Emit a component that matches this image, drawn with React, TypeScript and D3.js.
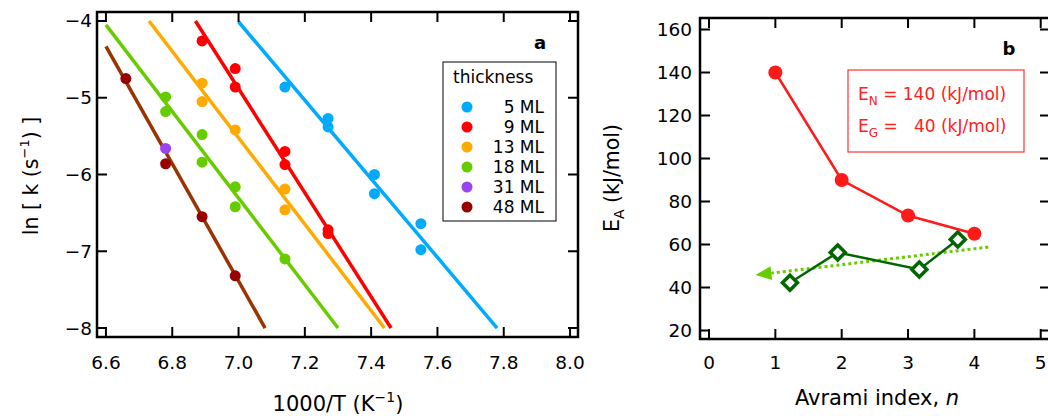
import { scaleLinear, range, line } from "d3";

const W = 1048;
const H = 416;
const FONT = "'DejaVu Sans', sans-serif";

// panel a: ln k vs 1000/T, one array pair per thickness
const labels = ["5 ML", "9 ML", "13 ML", "18 ML", "31 ML", "48 ML"];
const colors = ["#00aaff", "#ff0000", "#ffaa00", "#66cc00", "#9944ee", "#990000"];
const lineColors = ["#00aaff", "#ff0000", "#ffaa00", "#66cc00", null, "#993300"];

const x5 = [7.14, 7.27, 7.27, 7.41, 7.41, 7.55, 7.55];
const y5 = [-4.86, -5.27, -5.38, -6.0, -6.25, -6.64, -6.98];
const x9 = [6.89, 6.99, 6.99, 7.14, 7.14, 7.27, 7.27];
const y9 = [-4.26, -4.62, -4.86, -5.70, -5.87, -6.72, -6.77];
const x13 = [6.89, 6.89, 6.99, 7.14, 7.14];
const y13 = [-4.81, -5.05, -5.42, -6.19, -6.46];
const x18 = [6.78, 6.78, 6.89, 6.89, 6.99, 6.99, 7.14];
const y18 = [-4.99, -5.18, -5.48, -5.84, -6.16, -6.42, -7.10];
const x31 = [6.78];
const y31 = [-5.66];
const x48 = [6.66, 6.78, 6.89, 6.99];
const y48 = [-4.75, -5.86, -6.55, -7.32];

// fitted lines [x1, y1, x2, y2]
const fit5 = [7.0, -4.01, 7.78, -8.0];
const fit9 = [6.87, -4.0, 7.46, -8.0];
const fit13 = [6.73, -4.0, 7.44, -8.0];
const fit18 = [6.6, -4.05, 7.3, -8.0];
const fit48 = [6.6, -4.33, 7.08, -8.0];

const xTicksA = [6.6, 6.8, 7.0, 7.2, 7.4, 7.6, 7.8, 8.0];
const yTicksA = [-8, -7, -6, -5, -4];

// panel b: activation energy vs Avrami index
const avrami = [1, 2, 3, 4];
const eaRed = [140, 90, 73.5, 65];
const nX = [1.22, 1.94, 3.17, 3.75];
const nY = [42.2, 56.3, 48.4, 62.3];
const trendX = [4.21, 0.7];
const trendY = [58.8, 45.8];
const xTicksB = [0, 1, 2, 3, 4, 5];
const yTicksB = [20, 40, 60, 80, 100, 120, 140, 160];

const A = { l: 97, r: 578, t: 12, b: 337 };
const B = { l: 700, r: 1050, t: 18, b: 339 };

const xa = scaleLinear().domain([6.573, 8.024]).range([A.l, A.r]);
const ya = scaleLinear().domain([-8.117, -3.883]).range([A.b, A.t]);
const xb = scaleLinear().domain([-0.136, 5.14]).range([B.l, B.r]);
const yb = scaleLinear().domain([16.05, 165.35]).range([B.b, B.t]);

const TICK = 10;

function Frame({ P, xs, ys, xt, yt }: any) {
  return (
    <g stroke="#000" strokeWidth={2}>
      <rect x={P.l} y={P.t} width={P.r - P.l} height={P.b - P.t} fill="none" strokeWidth={2.5} />
      {xt.map((t: number) => (
        <g key={"x" + t}>
          <line x1={xs(t)} x2={xs(t)} y1={P.b} y2={P.b - TICK} />
          <line x1={xs(t)} x2={xs(t)} y1={P.t} y2={P.t + TICK} />
        </g>
      ))}
      {yt.map((t: number) => (
        <g key={"y" + t}>
          <line x1={P.l} x2={P.l + TICK} y1={ys(t)} y2={ys(t)} />
          <line x1={P.r} x2={P.r - TICK} y1={ys(t)} y2={ys(t)} />
        </g>
      ))}
    </g>
  );
}

export default function App() {
  const seriesX = [x5, x9, x13, x18, x31, x48];
  const seriesY = [y5, y9, y13, y18, y31, y48];
  const fits = [fit5, fit9, fit13, fit18, null, fit48];

  const redLine = line<number>()
    .x((d) => xb(avrami[d]))
    .y((d) => yb(eaRed[d]));
  const greenLine = line<number>()
    .x((d) => xb(nX[d]))
    .y((d) => yb(nY[d]));

  // arrow for the dotted trend
  const sx = xb(trendX[0]), sy = yb(trendY[0]);
  const tx = xb(trendX[1]), ty = yb(trendY[1]);
  const len = Math.hypot(tx - sx, ty - sy);
  const ux = (tx - sx) / len, uy = (ty - sy) / len;
  const headL = 16, headW = 7;
  const bx = tx - ux * headL, by = ty - uy * headL;
  const arrow = `${tx},${ty} ${bx - uy * headW},${by + ux * headW} ${bx + uy * headW},${by - ux * headW}`;

  const diamond = (cx: number, cy: number) => {
    const s = 7.5;
    return `${cx},${cy - s} ${cx + s},${cy} ${cx},${cy + s} ${cx - s},${cy}`;
  };

  return (
    <svg width={W} height={H} style={{ position: "absolute", left: 0, top: 0, fontFamily: FONT }}>
      <rect width={W} height={H} fill="#fff" />

      {/* panel a */}
      <g>
        {fits.map((f, i) =>
          f ? (
            <line key={"f" + i} x1={xa(f[0])} y1={ya(f[1])} x2={xa(f[2])} y2={ya(f[3])}
              stroke={lineColors[i] as string} strokeWidth={3.5} />
          ) : null
        )}
        {seriesX.map((xs, i) =>
          xs.map((v, j) => (
            <circle key={i + "-" + j} cx={xa(v)} cy={ya(seriesY[i][j])} r={5.5} fill={colors[i]} />
          ))
        )}
        <Frame P={A} xs={xa} ys={ya} xt={xTicksA} yt={yTicksA} />
        {xTicksA.map((t) => (
          <text key={t} x={xa(t)} y={369} fontSize={18.5} textAnchor="middle">{t.toFixed(1)}</text>
        ))}
        {yTicksA.map((t) => (
          <text key={t} x={92} y={ya(t) + 6.5} fontSize={18.5} textAnchor="end">{"\u2212" + Math.abs(t)}</text>
        ))}
        <text x={338} y={411} fontSize={21} textAnchor="middle">
          1000/T (K<tspan fontSize={14} dy={-9}>{"\u2212"}1</tspan><tspan dy={9}>)</tspan>
        </text>
        <text transform={`translate(38,176) rotate(-90)`} fontSize={20.5} textAnchor="middle" style={{ whiteSpace: "pre" }}>
          {"ln [ k (s"}<tspan fontSize={13} dy={-9}>{"\u2212"}1</tspan><tspan dy={9}>{") ]"}</tspan>
        </text>
        <text x={540} y={49} fontSize={18} fontWeight="bold" textAnchor="middle">a</text>

        <rect x={443} y={62} width={113} height={159} fill="#fff" stroke="#000" strokeWidth={1} />
        <text x={453} y={83} fontSize={17}>thickness</text>
        {labels.map((lab, i) => (
          <g key={lab}>
            <circle cx={467} cy={107 + i * 20} r={5.5} fill={colors[i]} />
            <text x={544} y={113 + i * 20} fontSize={17} textAnchor="end">{lab}</text>
          </g>
        ))}
      </g>

      {/* panel b */}
      <g>
        <line x1={sx} y1={sy} x2={bx} y2={by} stroke="#66cc00" strokeWidth={3} strokeDasharray="3,3" />
        <polygon points={arrow} fill="#66cc00" />
        <path d={greenLine(range(nX.length)) as string} fill="none" stroke="#006600" strokeWidth={2.5} />
        {nX.map((v, i) => (
          <polygon key={i} points={diamond(xb(v), yb(nY[i]))} fill="#fff" stroke="#006600" strokeWidth={3.5} />
        ))}
        <path d={redLine(range(avrami.length)) as string} fill="none" stroke="#ff1a1a" strokeWidth={2.5} />
        {avrami.map((v, i) => (
          <circle key={i} cx={xb(v)} cy={yb(eaRed[i])} r={7} fill="#ff1a1a" />
        ))}
        <Frame P={B} xs={xb} ys={yb} xt={xTicksB} yt={yTicksB} />
        {xTicksB.map((t) => (
          <text key={t} x={xb(t)} y={369} fontSize={18.5} textAnchor="middle">{t}</text>
        ))}
        {yTicksB.map((t) => (
          <text key={t} x={692} y={yb(t) + 6.5} fontSize={18.5} textAnchor="end">{t}</text>
        ))}
        <text x={877} y={405} fontSize={21} textAnchor="middle">
          Avrami index, <tspan fontStyle="italic">n</tspan>
        </text>
        <text transform={`translate(619,178) rotate(-90)`} fontSize={20.5} textAnchor="middle">
          E<tspan fontSize={14} dy={5}>A</tspan><tspan dy={-5}> (kJ/mol)</tspan>
        </text>
        <text x={1009} y={55} fontSize={18} fontWeight="bold" textAnchor="middle">b</text>

        <rect x={848} y={70} width={176} height={82} fill="#fff" stroke="#ff3333" strokeWidth={1.2} />
        <text x={858} y={100} fontSize={17} fill="#ff2020" style={{ whiteSpace: "pre" }}>
          E<tspan fontSize={12} dy={5}>N</tspan><tspan dy={-5}>{" = 140 (kJ/mol)"}</tspan>
        </text>
        <text x={858} y={132} fontSize={17} fill="#ff2020" style={{ whiteSpace: "pre" }}>
          E<tspan fontSize={12} dy={5}>G</tspan><tspan dy={-5}>{" =   40 (kJ/mol)"}</tspan>
        </text>
      </g>
    </svg>
  );
}
